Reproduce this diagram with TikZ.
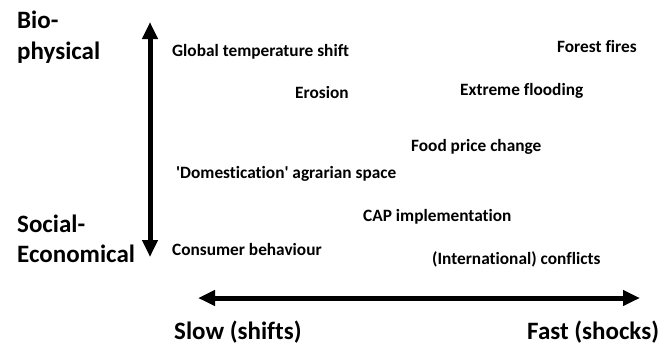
\documentclass[tikz,border=0pt]{standalone}
\usepackage{fontspec}
\setmainfont{Carlito}[Ligatures = {TeX, NoCommon}]
\usepackage{tikz}
\usetikzlibrary{arrows.meta}
\tikzset{lbl/.style = {anchor = base west, inner sep = 0, font = \fontsize{17.3}{20}\selectfont\bfseries},
    axlbl/.style = {anchor = base west, inner sep = 0, font = \fontsize{25}{30}\selectfont\bfseries},
    axis/.style = {line width = 5, {Triangle[length = 17, width = 15]}-{Triangle[length = 17, width = 15]}}}

\begin{document}
\begin{tikzpicture}[x = 1pt, y = -1pt]
            \useasboundingbox (0,0) rectangle (670,346);
            \coordinate (top) at (150,22);
            \coordinate (bottom) at (150,257);
            \coordinate (left) at (198,298);
            \coordinate (right) at (640,298);
            \draw [axis] (top) -- (bottom);
            \draw [axis] (left) -- (right);
            \node [axlbl] (bio) at (17,28) {Bio-};
            \node [axlbl] (phys) at (17,59) {physical};
            \node [axlbl] (soc) at (17,232) {Social-};
            \node [axlbl] (econ) at (17,262) {Economical};
            \node [axlbl] (slow) at (174,339) {Slow (shifts)};
            \node [axlbl] (fast) at (527,339) {Fast (shocks)};
            \node [lbl] (temp) at (172,56) {Global temperature shift};
            \node [lbl] (eros) at (295,98) {Erosion};
            \node [lbl] (dom) at (176,178) {\textquotesingle Domestication\textquotesingle\ agrarian space};
            \node [lbl] (cons) at (172,255) {Consumer behaviour};
            \node [lbl] (fire) at (557,52) {Forest fires};
            \node [lbl] (flood) at (460,95) {Extreme flooding};
            \node [lbl] (food) at (411,151) {Food price change};
            \node [lbl] (cap) at (363,221) {CAP implementation};
            \node [lbl] (confl) at (432,264) {(International) conflicts};
        \end{tikzpicture}
\end{document}
